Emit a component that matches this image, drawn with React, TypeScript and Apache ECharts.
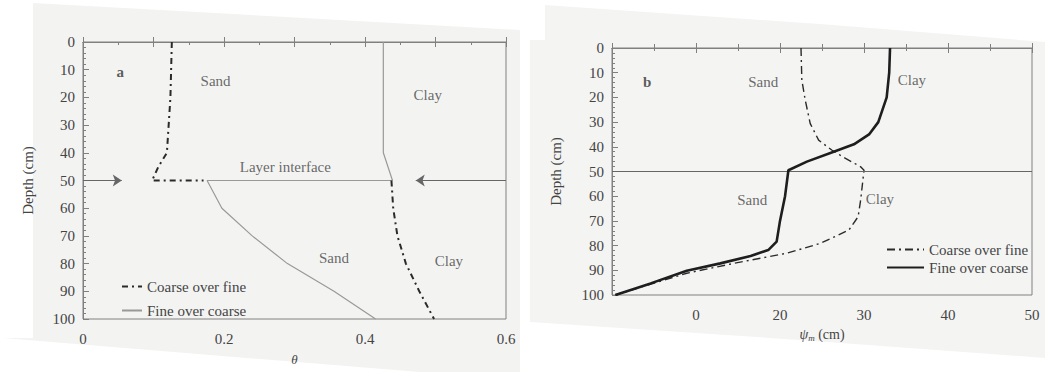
import React, { useEffect, useRef } from "react";
import * as echarts from "echarts";

// ---------- Panel a: water content θ vs depth ----------
const coarseOverFineA_upper: number[][] = [
  [0.126, 0], [0.124, 20], [0.119, 40], [0.107, 45], [0.098, 50], [0.171, 50],
];
const coarseOverFineA_lower: number[][] = [
  [0.4375, 50], [0.44, 60], [0.446, 70], [0.458, 80], [0.477, 90], [0.498, 100],
];
const fineOverCoarseA: number[][] = [
  [0.426, 0], [0.426, 40], [0.439, 50], [0.176, 50], [0.197, 60], [0.24, 70],
  [0.29, 80], [0.356, 90], [0.415, 100],
];
const labelsA = [
  { name: "a", value: [0.053, 11] },
  { name: "Sand", value: [0.188, 14] },
  { name: "Clay", value: [0.489, 19] },
  { name: "Layer interface", value: [0.287, 45] },
  { name: "Sand", value: [0.356, 78] },
  { name: "Clay", value: [0.519, 79] },
];
const interfaceArrowsA = [
  [[0, 50], [0.055, 50]],
  [[0.6, 50], [0.472, 50]],
];

// ---------- Panel b: matric potential ψm vs depth ----------
const fineOverCoarseB: number[][] = [
  [33.1, 0], [33.0, 10], [32.7, 20], [31.7, 30], [30.6, 35], [28.8, 39], [26.4, 42],
  [23.2, 46], [21.0, 49.5], [20.6, 60], [20.0, 70], [19.6, 78.4], [18.6, 81.8],
  [16.5, 84.2], [12.9, 87.2], [8.9, 90.2], [4.6, 95.3], [0.4, 100],
];
const coarseOverFineB: number[][] = [
  [22.5, 0], [22.6, 13], [23.0, 21], [23.6, 30.6], [24.6, 37.3], [26.2, 41.4],
  [27.8, 44.7], [29.6, 48.1], [30.0, 49.5], [29.6, 61.6], [29.3, 68.3], [28.2, 73.7],
  [24.8, 79.1], [20.8, 83.1], [14.5, 87.2], [8.9, 91.2], [4.2, 96], [0.4, 100],
];
const labelsB = [
  { name: "b", value: [4.2, 13.7] },
  { name: "Sand", value: [18.0, 13.7] },
  { name: "Clay", value: [35.7, 13.1] },
  { name: "Sand", value: [16.7, 61.6] },
  { name: "Clay", value: [31.9, 61.3] },
];
const interfaceDepth = 50;
const xTickLabelsB: Record<number, string> = { 0: "", 10: "0", 20: "20", 30: "30", 40: "40", 50: "50" };

const SERIF = "Liberation Serif, Times New Roman, serif";
const TXT = "#444";
const AX = "#808080";
const FS = 15;

export default function App() {
  const ref = useRef<HTMLDivElement>(null);
  useEffect(() => {
    const chart = echarts.init(ref.current!, undefined, { renderer: "svg" });

    const yAxisBase = (gridIndex: number) => ({
      type: "value",
      gridIndex,
      inverse: true,
      min: 0,
      max: 100,
      interval: 10,
      name: "Depth (cm)",
      nameLocation: "middle",
      nameGap: 48,
      nameTextStyle: { fontFamily: SERIF, fontSize: FS, color: TXT },
      axisLine: { show: true, lineStyle: { color: AX } },
      axisTick: { show: true, inside: true, length: 6, lineStyle: { color: AX } },
      minorTick: { show: true, splitNumber: 5, length: 3, lineStyle: { color: AX } },
      splitLine: { show: false },
      axisLabel: { fontFamily: SERIF, fontSize: FS, color: TXT, margin: 8 },
    });

    const annot = (xi: number, yi: number, data: any[]) => ({
      type: "scatter",
      xAxisIndex: xi,
      yAxisIndex: yi,
      symbol: "circle",
      symbolSize: 1,
      itemStyle: { color: "rgba(0,0,0,0)" },
      silent: true,
      data,
      label: {
        show: true,
        position: "inside",
        formatter: "{b}",
        fontFamily: SERIF,
        fontSize: FS,
        color: TXT,
      },
    });

    const option: any = {
      animation: false,
      backgroundColor: "#ffffff",
      graphic: [
        {
          type: "polygon",
          z: -10,
          silent: true,
          shape: { points: [[33, 3], [520, 30], [520, 372], [420, 372], [3, 338], [33, 338]] },
          style: { fill: "#f3f3f2" },
        },
        {
          type: "polygon",
          z: -10,
          silent: true,
          shape: { points: [[545, 5], [820, 24], [1045, 42], [1045, 358], [800, 340], [530, 322], [530, 40], [545, 40]] },
          style: { fill: "#f4f4f3" },
        },
      ],
      grid: [
        { left: 83, top: 42, width: 423, height: 277, show: true, borderColor: AX, borderWidth: 1 },
        { left: 612, top: 48, width: 420, height: 247, show: true, borderColor: AX, borderWidth: 1 },
      ],
      legend: [
        {
          left: 116,
          top: 274,
          orient: "vertical",
          itemWidth: 20,
          itemHeight: 14,
          itemGap: 9,
          data: ["Coarse over fine", "Fine over coarse"],
          itemStyle: { opacity: 0 },
          textStyle: { fontFamily: SERIF, fontSize: FS, color: TXT },
          formatter: (n: string) => n.trim(),
        },
        {
          left: 881,
          top: 237,
          orient: "vertical",
          itemWidth: 37,
          itemHeight: 12,
          itemGap: 3,
          data: ["Coarse over fine ", "Fine over coarse "],
          itemStyle: { opacity: 0 },
          textStyle: { fontFamily: SERIF, fontSize: FS, color: TXT },
          formatter: (n: string) => n.trim(),
        },
      ],
      xAxis: [
        {
          type: "value",
          gridIndex: 0,
          min: 0,
          max: 0.6,
          interval: 0.1,
          name: "θ",
          nameLocation: "middle",
          nameGap: 34,
          nameTextStyle: { fontFamily: SERIF, fontSize: 13, fontStyle: "italic", color: TXT },
          axisLine: { show: true, lineStyle: { color: AX } },
          axisTick: { show: true, inside: true, length: 5, lineStyle: { color: AX } },
          splitLine: { show: false },
          axisLabel: {
            fontFamily: SERIF,
            fontSize: FS,
            color: TXT,
            margin: 12,
            formatter: (v: number) => (Math.round(v * 10) % 2 === 0 ? String(Math.round(v * 10) / 10) : ""),
          },
        },
        {
          type: "value",
          gridIndex: 0,
          position: "top",
          min: 0,
          max: 0.6,
          interval: 0.1,
          axisLine: { show: true, lineStyle: { color: AX } },
          axisTick: { show: true, inside: true, length: 5, lineStyle: { color: AX } },
          minorTick: { show: true, splitNumber: 2, length: 3, lineStyle: { color: AX } },
          splitLine: { show: false },
          axisLabel: { show: false },
        },
        {
          type: "value",
          gridIndex: 1,
          min: 0,
          max: 50,
          interval: 10,
          name: "{i|ψ}{s|m}{n| (cm)}",
          nameLocation: "middle",
          nameGap: 32,
          nameTextStyle: {
            fontFamily: SERIF,
            fontSize: 13,
            color: TXT,
            rich: {
              i: { fontFamily: SERIF, fontSize: 14, fontStyle: "italic", color: TXT },
              s: { fontFamily: SERIF, fontSize: 9, fontStyle: "italic", color: TXT, padding: [6, 0, 0, 0] },
              n: { fontFamily: SERIF, fontSize: 14, color: TXT },
            },
          },
          axisLine: { show: true, lineStyle: { color: AX } },
          axisTick: { show: true, inside: true, length: 5, lineStyle: { color: AX } },
          minorTick: { show: true, splitNumber: 2, length: 4, lineStyle: { color: AX } },
          splitLine: { show: false },
          axisLabel: {
            fontFamily: SERIF,
            fontSize: FS,
            color: TXT,
            margin: 12,
            formatter: (v: number) => (xTickLabelsB[v] !== undefined ? xTickLabelsB[v] : String(v)),
          },
        },
        {
          type: "value",
          gridIndex: 1,
          position: "top",
          min: 0,
          max: 50,
          interval: 10,
          axisLine: { show: true, lineStyle: { color: AX } },
          axisTick: { show: true, inside: true, length: 5, lineStyle: { color: AX } },
          minorTick: { show: true, splitNumber: 2, length: 3, lineStyle: { color: AX } },
          splitLine: { show: false },
          axisLabel: { show: false },
        },
      ],
      yAxis: [
        yAxisBase(0),
        { ...yAxisBase(1), nameGap: 49 },
      ],
      series: [
        {
          name: "Coarse over fine",
          type: "line",
          xAxisIndex: 0,
          yAxisIndex: 0,
          symbol: "none",
          data: coarseOverFineA_upper,
          lineStyle: { color: "#2a2a2a", width: 2, type: [6, 4, 2, 4] },
          itemStyle: { color: "#2a2a2a" },
          z: 4,
        },
        {
          name: "Coarse over fine",
          type: "line",
          xAxisIndex: 0,
          yAxisIndex: 0,
          symbol: "none",
          data: coarseOverFineA_lower,
          lineStyle: { color: "#2a2a2a", width: 2, type: [6, 4, 2, 4] },
          itemStyle: { color: "#2a2a2a" },
          z: 4,
        },
        {
          name: "Fine over coarse",
          type: "line",
          xAxisIndex: 0,
          yAxisIndex: 0,
          symbol: "none",
          data: fineOverCoarseA,
          lineStyle: { color: "#999", width: 1.2, type: "solid" },
          itemStyle: { color: "#999" },
          z: 3,
          markLine: {
            silent: true,
            symbol: ["none", "arrow"],
            symbolSize: 9,
            label: { show: false },
            lineStyle: { color: "#666", width: 1, type: "solid" },
            data: interfaceArrowsA.map((seg) => [{ coord: seg[0] }, { coord: seg[1] }]),
          },
        },
        annot(0, 0, labelsA.map((d) => (d.name === "a"
          ? { ...d, label: { fontWeight: "bold", color: "#333" } }
          : d))),
        {
          name: "Coarse over fine ",
          type: "line",
          xAxisIndex: 2,
          yAxisIndex: 1,
          symbol: "none",
          data: coarseOverFineB,
          lineStyle: { color: "#2a2a2a", width: 1.4, type: [8, 4, 2, 4] },
          itemStyle: { color: "#2a2a2a" },
          z: 4,
        },
        {
          name: "Fine over coarse ",
          type: "line",
          xAxisIndex: 2,
          yAxisIndex: 1,
          symbol: "none",
          data: fineOverCoarseB,
          lineStyle: { color: "#1e1e1e", width: 2.6, type: "solid" },
          itemStyle: { color: "#1e1e1e" },
          z: 5,
          markLine: {
            silent: true,
            symbol: ["none", "none"],
            label: { show: false },
            lineStyle: { color: "#666", width: 1, type: "solid" },
            data: [{ yAxis: interfaceDepth }],
          },
        },
        annot(2, 1, labelsB.map((d) => (d.name === "b"
          ? { ...d, label: { fontWeight: "bold", color: "#333" } }
          : d))),
      ],
    };

    chart.setOption(option);
    return () => chart.dispose();
  }, []);

  return <div ref={ref} style={{ width: 1045, height: 372, position: "absolute", left: 0, top: 0 }} />;
}
